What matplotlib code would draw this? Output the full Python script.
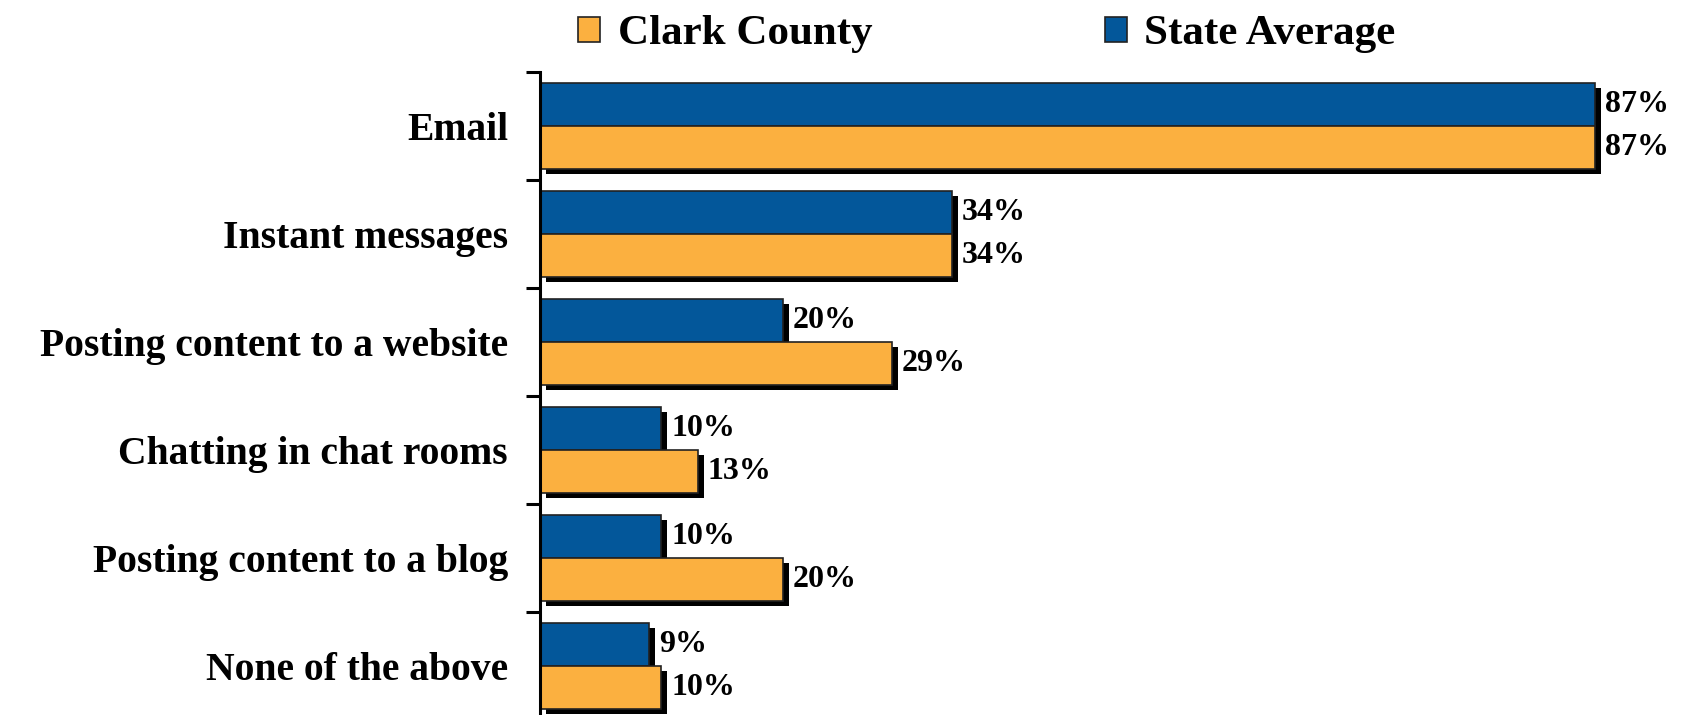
import numpy as np
import matplotlib.pyplot as plt
import matplotlib.patheffects as pe
from matplotlib.patches import Patch

plt.rcParams['font.family'] = ['Liberation Serif', 'DejaVu Serif']
plt.rcParams['font.weight'] = 'bold'

categories = ['Email', 'Instant messages', 'Posting content to a website',
              'Chatting in chat rooms', 'Posting content to a blog', 'None of the above']
state_avg = [87, 34, 20, 10, 10, 9]
clark = [87, 34, 29, 13, 20, 10]

blue = '#03579A'
orange = '#FBB040'

fig = plt.figure(figsize=(16.84, 7.15), dpi=100)
ax = fig.add_axes([540 / 1684, -0.007, 1 - 540 / 1684, 0.906])

y = np.arange(len(categories))
h = 0.4
shadow = [pe.SimplePatchShadow(offset=(4.3, -3.6), shadow_rgbFace='black', alpha=1.0), pe.Normal()]

b1 = ax.barh(y - h / 2, state_avg, height=h, color=blue, edgecolor='#222222', linewidth=1.2)
b2 = ax.barh(y + h / 2, clark, height=h, color=orange, edgecolor='#222222', linewidth=1.2)
for bars in (b1, b2):
    for p in bars:
        p.set_path_effects(shadow)

# value labels
for yy, v in zip(y - h / 2, state_avg):
    ax.text(v + 0.8, yy, f'{v}%', va='center', ha='left', fontsize=23, fontweight='bold')
for yy, v in zip(y + h / 2, clark):
    ax.text(v + 0.8, yy, f'{v}%', va='center', ha='left', fontsize=23, fontweight='bold')

ax.set_xlim(0, (1684 - 540) / 12.13)
ax.set_ylim(len(categories) - 0.5, -0.5)

ax.set_yticks(y)
ax.set_yticklabels(categories, fontsize=28.5, fontweight='bold')
ax.tick_params(axis='y', which='major', length=0, pad=23)
ax.set_yticks(np.arange(len(categories) + 1) - 0.5, minor=True)
ax.tick_params(axis='y', which='minor', length=10, width=2.2, direction='out')
ax.set_xticks([])

for s in ['top', 'right', 'bottom']:
    ax.spines[s].set_visible(False)
ax.spines['left'].set_linewidth(2.2)

handles = [Patch(facecolor=orange, edgecolor='#222222', linewidth=1.2),
           Patch(facecolor=blue, edgecolor='#222222', linewidth=1.2)]
fig.legend(handles=handles, labels=['Clark County', 'State Average'], ncol=2,
           loc='center', bbox_to_anchor=(0.586, 0.952), frameon=False,
           prop={'size': 31, 'weight': 'bold'}, handlelength=0.52, handleheight=0.52,
           handletextpad=0.4, columnspacing=5.4, borderpad=0, borderaxespad=0)

fig.savefig('out.png', dpi=100)
